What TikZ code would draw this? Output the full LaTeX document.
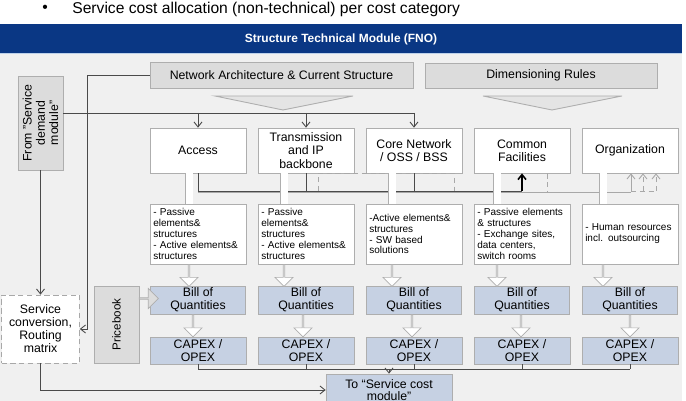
\documentclass[tikz,border=0pt]{standalone}
\usepackage{fontspec}
\setmainfont{Liberation Sans}
\usetikzlibrary{arrows.meta,calc,shapes.arrows}
\definecolor{fnoNavy}{HTML}{0A3784}
\definecolor{fnoBack}{HTML}{F0F0F0}
\definecolor{fnoGray}{HTML}{DCDCDC}
\definecolor{fnoEdge}{HTML}{AEAEAE}
\definecolor{fnoBlue}{HTML}{C6D1E3}
\definecolor{fnoLine}{HTML}{4A4A4A}
\definecolor{fnoFaint}{HTML}{A8A8A8}
\definecolor{fnoFunnel}{HTML}{E4E4E4}
\definecolor{fnoRule}{HTML}{BDD1EA}

\begin{document}
\begin{tikzpicture}[x=0.02cm, y=-0.02cm,
  txt/.style={inner sep=1pt, align=center, font=\fontsize{7}{7.5}\selectfont},
  greybox/.style={txt, draw=fnoEdge, fill=fnoGray},
  headbox/.style={txt, draw=fnoEdge, fill=white, minimum width=1.92cm, minimum height=0.9cm},
  detbox/.style={draw=fnoEdge, fill=white, align=left, inner xsep=1.8pt, inner ysep=1pt,
                 text width=1.79cm, minimum height=1.2cm, font=\fontsize{5.7}{6.2}\selectfont},
  qtybox/.style={txt, draw=fnoEdge, fill=fnoBlue, minimum width=1.9cm, minimum height=0.56cm},
  costbox/.style={txt, draw=fnoEdge, fill=fnoBlue, minimum width=1.92cm, minimum height=0.54cm},
  hollowarr/.style={single arrow, draw=fnoEdge, fill=white, inner sep=0pt, minimum height=0.44cm,
                    minimum width=0.36cm, single arrow head extend=0.08cm, rotate=-90},
  whitebar/.style={draw=fnoEdge, double=white, double distance=0.14cm, line width=0.4pt},
  funnel/.style={draw=fnoEdge, fill=fnoFunnel, line width=0.5pt},
  conn/.style={draw=fnoLine, line width=0.5pt},
  arr/.style={conn, -{Straight Barb[length=1mm,width=1.6mm]}},
  faint/.style={draw=fnoFaint, line width=0.5pt},
]
\useasboundingbox (0,0) rectangle (686,401);

% Banner
\fill[fnoBack] (0,53) rectangle (682,401);
\fill[fnoNavy] (0,24) rectangle (682,53);
\draw[fnoRule, line width=0.7pt] (0,53.5) -- (682,53.5);
\node[font=\fontsize{8.9}{10}\selectfont] (dot) at (45,9) {\textbullet};
\node[anchor=base west, inner sep=0pt, font=\fontsize{8.9}{10}\selectfont] (topic) at (72,13.5)
  {Service cost allocation (non-technical) per cost category};
\node[text=white, font=\bfseries\fontsize{6.8}{8}\selectfont] (title) at (341,39.5)
  {Structure Technical Module (FNO)};

% Inputs
\node[greybox, minimum width=5.26cm, minimum height=0.52cm] (arch) at (281.5,75)
  {Network Architecture \& Current Structure};
\node[greybox, minimum width=4.64cm, minimum height=0.5cm] (dim) at (541,75.5) {Dimensioning Rules};
\draw[funnel] (215,96) -- (353,96) -- (283,110) -- cycle;
\draw[funnel] (483,96) -- (622,96) -- (552,110) -- cycle;
\node[greybox, rotate=90, minimum width=1.88cm, minimum height=0.9cm] (from) at (40.5,123)
  {From "Service\\demand\\module"};

% Modules
\node[headbox] (acc) at (198,150.5) {Access};
\node[headbox] (tra) at (306,150.5) {Transmission\\and IP\\backbone};
\node[headbox] (cor) at (414,150.5) {Core Network\\/ OSS / BSS};
\node[headbox] (com) at (522,150.5) {Common\\Facilities};
\node[headbox] (org) at (630,150.5) {Organization};

\node[detbox] (acc-det) at (198,234) {- Passive\\elements\&\\structures\\- Active elements\&\\structures};
\node[detbox] (tra-det) at (306,234) {- Passive\\elements\&\\structures\\- Active elements\&\\structures};
\node[detbox] (cor-det) at (414,234) {-Active elements\&\\structures\\- SW based\\solutions};
\node[detbox] (com-det) at (522,234) {- Passive elements\\\& structures\\- Exchange sites,\\data centers,\\switch rooms};
\node[detbox] (org-det) at (630,234) {- Human resources\\incl. outsourcing};

\foreach \n/\x in {acc/198,tra/306,cor/414,com/522,org/630}{
  \node[qtybox] (\n-qty) at (\x,300) {Bill of\\Quantities};
  \node[costbox] (\n-cap) at (\x,350.5) {CAPEX /\\OPEX};
}

% Side boxes
\node[greybox, rotate=90, minimum width=1.54cm, minimum height=0.9cm, font=\fontsize{6.6}{7}\selectfont]
  (price) at (116.5,324.5) {Pricebook};
\node[txt, draw=fnoFaint, densely dashed, fill=white, minimum width=1.56cm, minimum height=1.36cm,
      font=\fontsize{7}{7.4}\selectfont] (conv) at (40.5,329) {Service\\conversion,\\Routing\\matrix};
\node[txt, draw=fnoEdge, fill=fnoBlue, minimum width=2.52cm, minimum height=0.64cm,
      font=\fontsize{7}{6.8}\selectfont] (to) at (389,390) {To “Service cost\\module”};

% Flows
\coordinate (bus) at (0,113);
\coordinate (lft) at (87,0);
\coordinate (mbus) at (0,191);
\coordinate (gbus) at (0,192.5);
\coordinate (cbus) at (0,369);

\draw[conn] (from.south |- bus) -- (cor.north |- bus);
\foreach \n in {acc,tra,cor}{ \draw[arr] (\n.north |- bus) -- (\n.north); }
\draw[arr] (arch.west) -- (arch.west -| lft) -- (lft |- conv.east) -- (conv.east);
\draw[arr] (from.west) -- (conv.north);
\draw[arr] (conv.south) |- (to.west);

\draw[faint] (acc.south |- gbus) -- ([xshift=0.02cm]org.south |- gbus);
\draw[conn] (acc.south) |- (com.south |- mbus);
\draw[conn] (tra.south) -- (tra.south |- mbus);
\draw[conn] (cor.south) -- (cor.south |- mbus);
\draw[arr, draw=black, line width=0.9pt] (com.south |- mbus) -- (com.south);
\draw[faint, densely dashed] ([xshift=0.24cm]tra.south |- mbus) -- ([xshift=0.24cm]tra.south)
  -- ([xshift=0.8cm]cor.south) -- ([xshift=0.8cm]cor.south |- mbus);
\draw[faint, densely dashed] ([xshift=0.5cm]com.south) -- ([xshift=0.5cm]com.south |- mbus);
\draw[arr, draw=fnoFaint] ([xshift=0.02cm]org.south |- mbus) -- ([xshift=0.02cm]org.south);
\draw[faint, densely dashed] ([xshift=0.02cm]org.south |- mbus) -- ([xshift=0.52cm]org.south |- mbus);
\foreach \s in {0.26,0.52}{
  \draw[arr, draw=fnoFaint, densely dashed] ([xshift=\s cm]org.south |- mbus) -- ([xshift=\s cm]org.south);
}

\draw[conn] (acc-cap.south |- cbus) -- (org-cap.south |- cbus);
\foreach \n in {acc,tra,cor,com,org}{ \draw[conn] (\n-cap.south) -- (\n-cap.south |- cbus); }
\draw[arr] (to.north |- cbus) -- (to.north);

% Block arrows
\foreach \n/\o/\p in {acc/-9/-5,tra/-22/-3,cor/-22/-2,com/-25/-1,org/-27/0}{
  \draw[whitebar] ($(\n.south)+(\o,0)$) -- ($(\n-det.north)+(\o,0)$);
  \node[hollowarr] (\n-a1) at ($(\n-det.south)!0.5!(\n-qty.north)+(\o,0)$) {};
  \node[hollowarr] (\n-a2) at ($(\n-qty.south)!0.5!(\n-cap.north)+(\p,0)$) {};
}
\node[single arrow, draw=fnoEdge, fill=fnoGray, inner sep=0pt, minimum height=0.38cm,
      minimum width=0.4cm, single arrow head extend=0.1cm] (price-arr) at (148.5,298.5) {};

\end{tikzpicture}
\end{document}
